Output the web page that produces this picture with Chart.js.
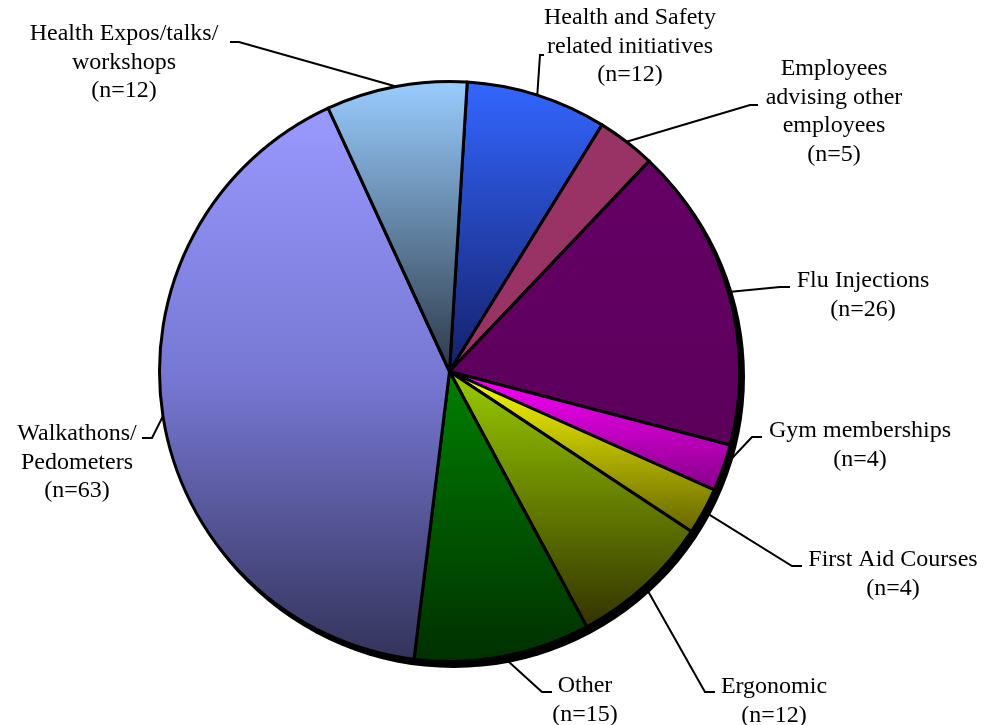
<!DOCTYPE html>
<html>
<head>
<meta charset="utf-8">
<script src="https://cdn.jsdelivr.net/npm/chart.js@4/dist/chart.umd.min.js"></script>
<style>
  html, body { margin: 0; padding: 0; background: #ffffff; }
  #wrap { width: 984px; height: 725px; }
</style>
</head>
<body>
<div id="wrap"><canvas id="c" width="984" height="725"></canvas></div>
<script>
// ---- data ----
const categories = [
  "Health and Safety related initiatives",
  "Employees advising other employees",
  "Flu Injections",
  "Gym memberships",
  "First Aid Courses",
  "Ergonomic",
  "Other",
  "Walkathons/ Pedometers",
  "Health Expos/talks/ workshops"
];
const counts = [12, 5, 26, 4, 4, 12, 15, 63, 12];
const labelLines = [
  ["Health and Safety", "related initiatives"],
  ["Employees", "advising other", "employees"],
  ["Flu Injections"],
  ["Gym memberships"],
  ["First Aid Courses"],
  ["Ergonomic"],
  ["Other"],
  ["Walkathons/", "Pedometers"],
  ["Health Expos/talks/", "workshops"]
];

// ---- styles (gradient stops top -> bottom of each slice) ----
const sliceGradients = [
  ["#3366FF", "#15206a"],
  ["#993366", "#993366"],
  ["#660066", "#5c005c"],
  ["#FF00FF", "#880088"],
  ["#FFFF00", "#666600"],
  ["#99CC00", "#333300"],
  ["#008000", "#003000"],
  ["#9999FF", "#7676d2", "#33335a"],
  ["#99CCFF", "#2c3a48"]
];

// ---- label layout (text centre, first line y, elbow and tick end of leader) ----
const labelLayout = [
  { x: 630, y: 18, elbow: [540, 55], tick: [544, 55] },
  { x: 834, y: 69, elbow: [750, 105], tick: [758, 105] },
  { x: 863, y: 281, elbow: [780, 287], tick: [790, 287] },
  { x: 860, y: 431, elbow: [752, 437], tick: [762, 437] },
  { x: 893, y: 560, elbow: [792, 566], tick: [802, 566] },
  { x: 774, y: 687, elbow: [705, 692], tick: [715, 692] },
  { x: 585, y: 686, elbow: [542, 692], tick: [552, 692] },
  { x: 77, y: 434, elbow: [152, 438], tick: [142, 438] },
  { x: 124, y: 34, elbow: [239, 42], tick: [230, 42] }
];
const FONT = '24px "Liberation Serif", "Times New Roman", serif';
const LINE_H = 28.5;

function sliceYRange(el) {
  const { x, y, startAngle, endAngle, outerRadius } = el.getProps(['x','y','startAngle','endAngle','outerRadius'], true);
  let ys = [y, y + outerRadius * Math.sin(startAngle), y + outerRadius * Math.sin(endAngle)];
  const TAU = Math.PI * 2;
  const check = (a) => {
    let t = a;
    while (t < startAngle) t += TAU;
    while (t > startAngle + TAU) t -= TAU;
    return t <= endAngle;
  };
  if (check(-Math.PI / 2)) ys.push(y - outerRadius);
  if (check(Math.PI / 2)) ys.push(y + outerRadius);
  return [Math.min(...ys), Math.max(...ys)];
}

const gradientPlugin = {
  id: 'sliceGradient',
  beforeDatasetDraw(chart, args) {
    const ctx = chart.ctx;
    const meta = chart.getDatasetMeta(args.index);
    meta.data.forEach((el, i) => {
      const [y0, y1] = sliceYRange(el);
      const g = ctx.createLinearGradient(0, y0, 0, y1);
      const stops = sliceGradients[i];
      stops.forEach((c, k) => g.addColorStop(k / (stops.length - 1), c));
      el.options.backgroundColor = g;
    });
  }
};

const shadowPlugin = {
  id: 'pieShadow',
  beforeDatasetsDraw(chart) {
    const el = chart.getDatasetMeta(0).data[0];
    if (!el) return;
    const ctx = chart.ctx;
    ctx.save();
    ctx.fillStyle = '#000000';
    ctx.beginPath();
    ctx.arc(el.x + 4, el.y + 5, el.outerRadius + 1.5, 0, Math.PI * 2);
    ctx.fill();
    ctx.restore();
  }
};

const labelPlugin = {
  id: 'sliceLabels',
  afterDatasetsDraw(chart) {
    const ctx = chart.ctx;
    const meta = chart.getDatasetMeta(0);
    ctx.save();
    meta.data.forEach((el, i) => {
      const L = labelLayout[i];
      const mid = (el.startAngle + el.endAngle) / 2;
      const r = el.outerRadius;
      const px = el.x + r * Math.cos(mid);
      const py = el.y + r * Math.sin(mid);
      ctx.strokeStyle = '#000000';
      ctx.lineWidth = 2;
      ctx.beginPath();
      ctx.moveTo(px, py);
      ctx.lineTo(L.elbow[0], L.elbow[1]);
      ctx.lineTo(L.tick[0], L.tick[1]);
      ctx.stroke();
      const lines = labelLines[i].concat(["(n=" + counts[i] + ")"]);
      ctx.fillStyle = '#000000';
      ctx.font = FONT;
      ctx.textAlign = 'center';
      ctx.textBaseline = 'middle';
      lines.forEach((t, k) => ctx.fillText(t, L.x, L.y + k * LINE_H));
    });
    ctx.restore();
  }
};

new Chart(document.getElementById('c'), {
  type: 'pie',
  data: {
    labels: categories,
    datasets: [{
      data: counts,
      backgroundColor: sliceGradients.map(s => s[0]),
      borderColor: '#000000',
      borderWidth: 3,
      borderJoinStyle: 'round'
    }]
  },
  options: {
    responsive: false,
    animation: false,
    rotation: 3.5,
    layout: { padding: { left: 158, right: 243, top: 80, bottom: 62 } },
    plugins: {
      legend: { display: false },
      tooltip: { enabled: false }
    }
  },
  plugins: [shadowPlugin, gradientPlugin, labelPlugin]
});
</script>
</body>
</html>
